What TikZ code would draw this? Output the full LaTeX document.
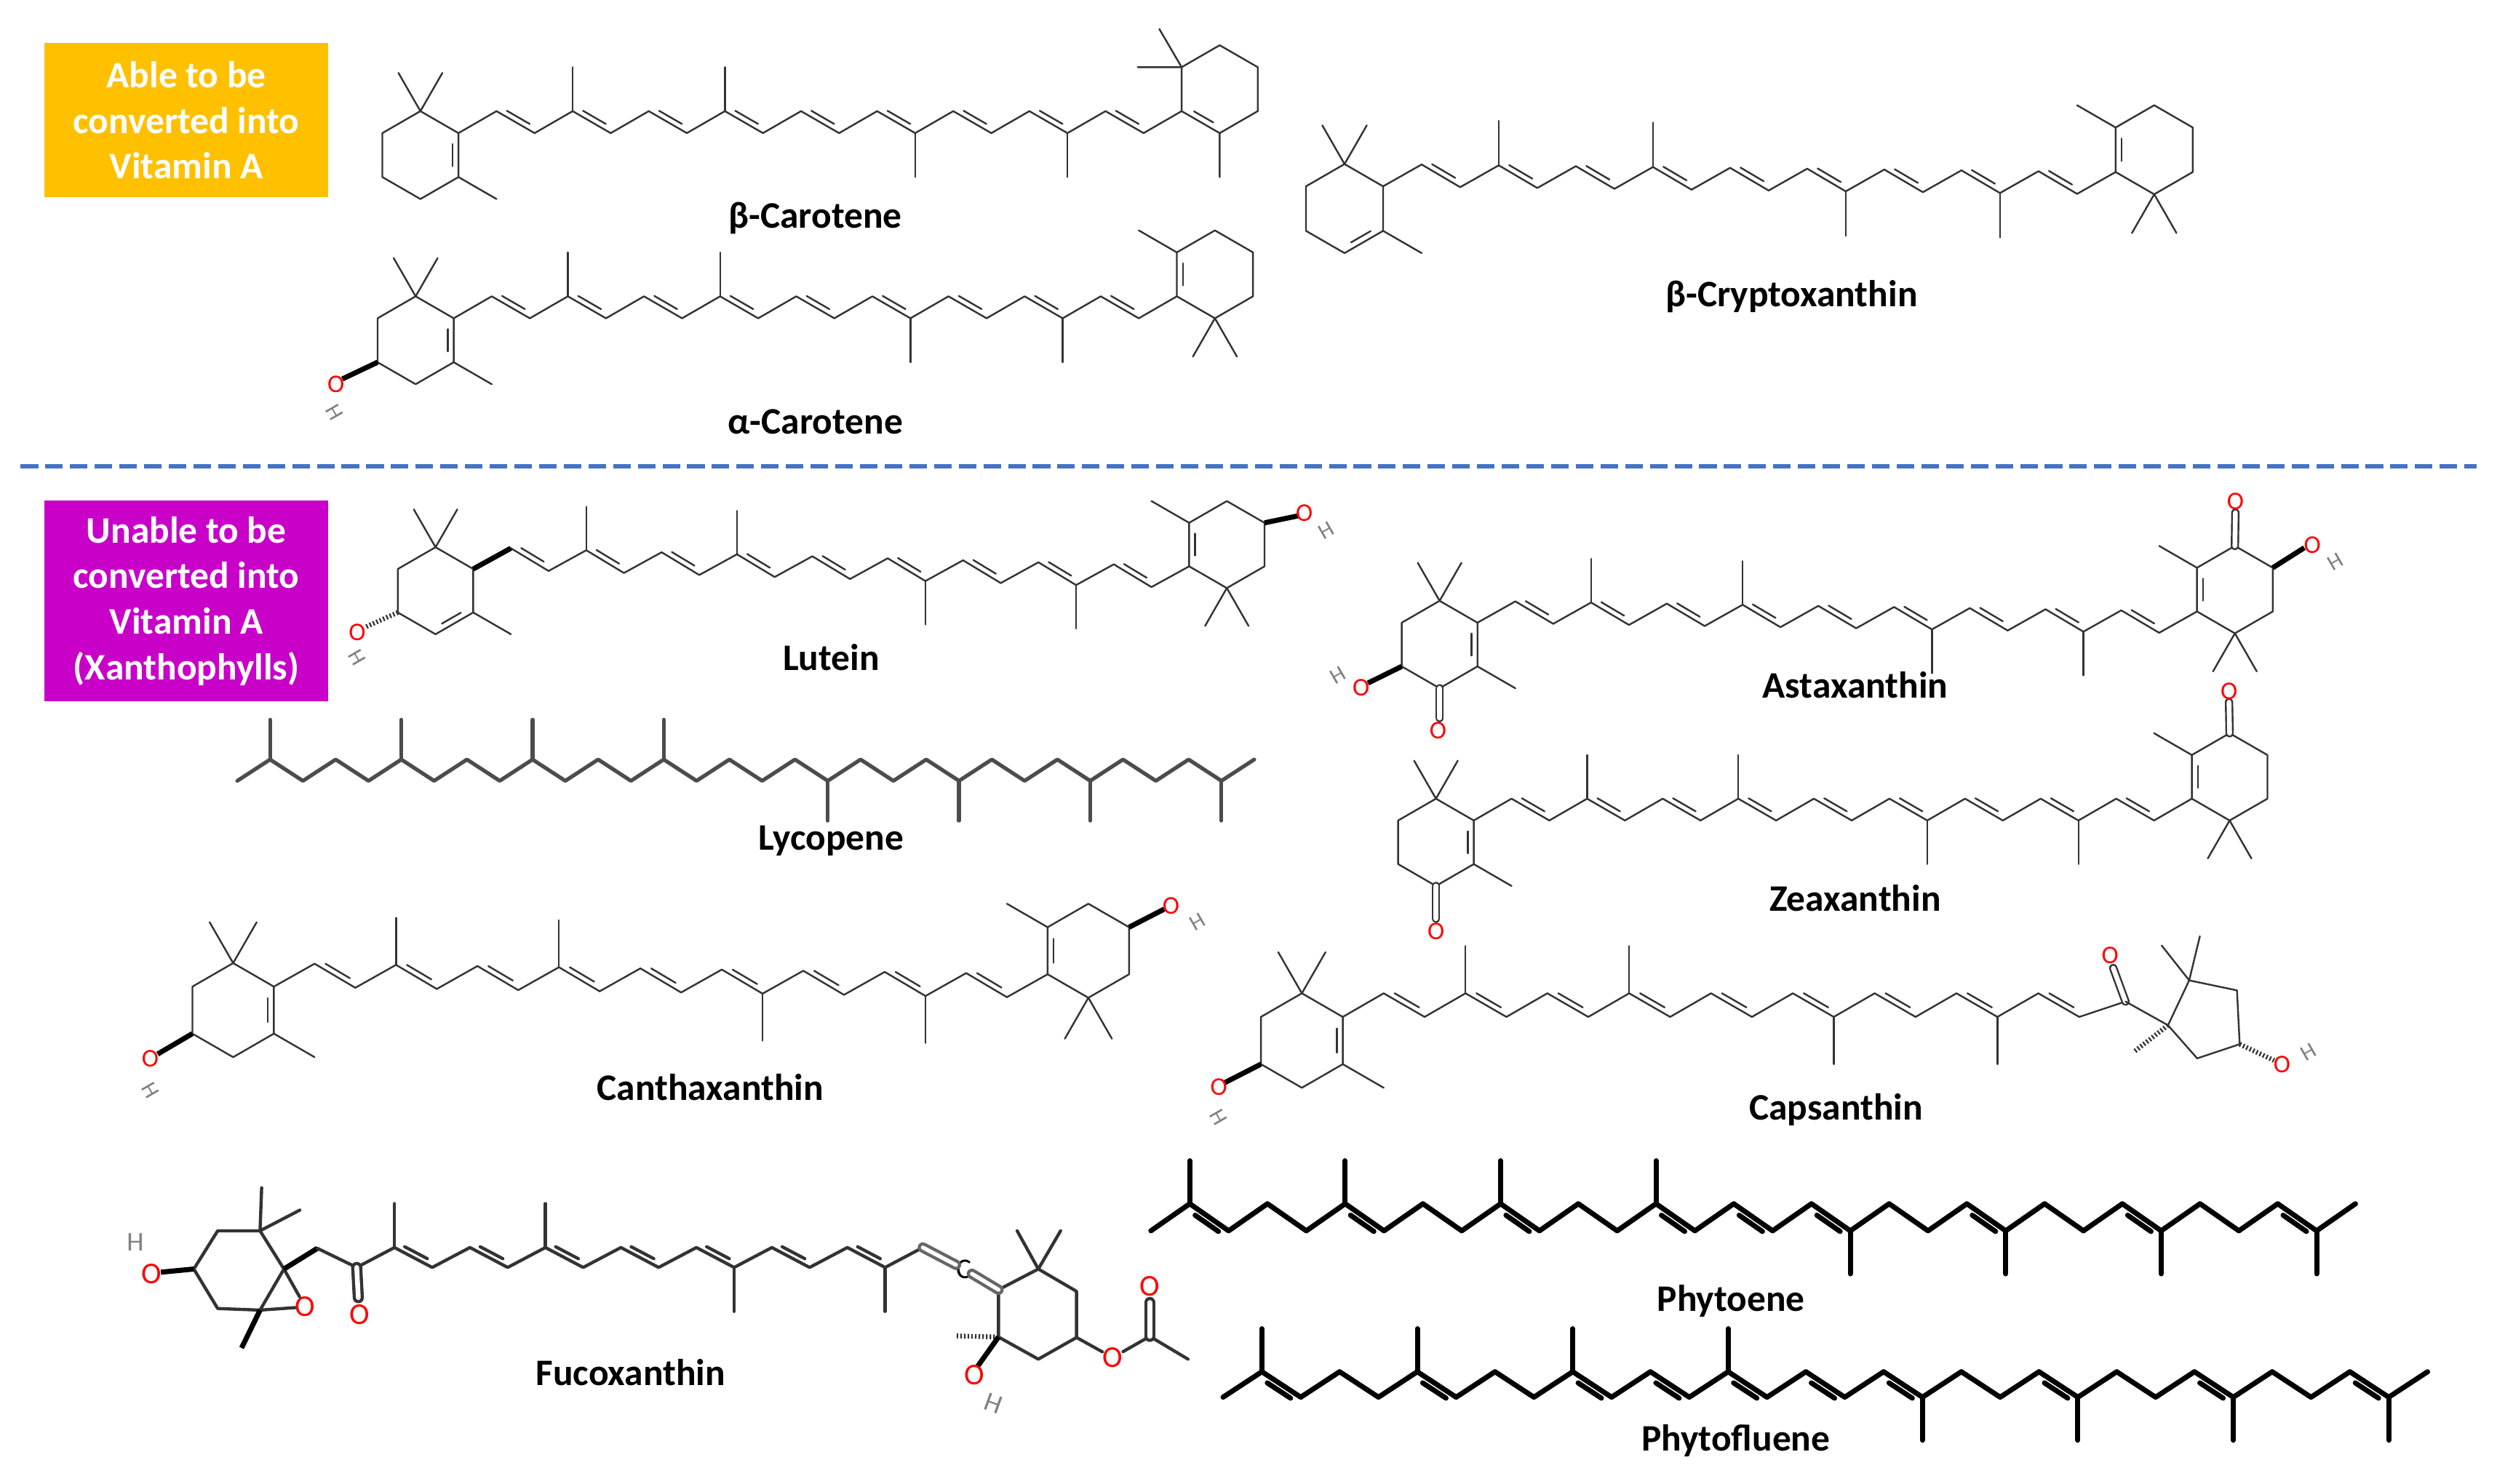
\documentclass[tikz,border=0pt]{standalone}
\usepackage{fontspec}
\setmainfont{Carlito}
\usetikzlibrary{calc}
\newif\ifchdbl \chdbltrue
\def\cdx{23.9}\def\ch{13.8}\def\csl{0}\def\bb{27.6}\def\doffx{1.7}\def\doffy{-3}
\newcommand\ring[3]{\coordinate (#1c) at #2;\foreach \k in {0,...,5}{\coordinate (#1\k) at ($(#1c)+({30+60*\k}:#3)$);}\draw[bond] (#10)--(#11)--(#12)--(#13)--(#14)--(#15)--cycle;}
\newcommand\dbl[3]{\draw[bond] ($($(#1)!.2!(#2)$)!4pt!(#3)$) -- ($($(#1)!.8!(#2)$)!4pt!(#3)$);}
% name, x0, y0, n, parity, methyls, doubles
\newcommand\chain[7]{%
 \foreach \k in {0,...,#4}{\coordinate (#1\k) at ({#2+\cdx*\k},{#3-\ch*mod(\k+#5,2)+\csl*\k});}%
 \draw[bond] (#10) \foreach \k in {1,...,#4}{ -- (#1\k)};%
 \ifchdbl\foreach \k in {#7}{\pgfmathtruncatemacro\kk{\k+1}\draw[bond] ($($(#1\k)!.2!(#1\kk)$)+(\doffx,\doffy)$) -- ($($(#1\k)!.8!(#1\kk)$)+(\doffx,\doffy)$);}\fi
 \foreach \k in {#6}{\pgfmathsetmacro\dd{mod(\k+#5,2)==1 ? -\bb : \bb}\draw[bond] (#1\k) -- ++(0,\dd);}%
}
% prefix, cx, cy, scale, slope
\newcommand\mol[5]{%
 \pgfmathsetmacro\bb{27.6*#4}\pgfmathsetmacro\cdx{23.9*#4}\pgfmathsetmacro\ch{13.8*#4}\pgfmathsetmacro\csl{#5/19}%
 \ring{#1L}{(#2,#3)}{\bb}%
 \chain{#1}{#2+\cdx}{#3-\ch}{19}{0}{3,7,12,16}{1,3,...,17}%
 \ring{#1R}{($(#119)+(\cdx,-\ch)$)}{\bb}%
 \def\csl{0}}
\newcommand\gemup[1]{\draw[bond] (#1)--++(-0.5*\bb,-0.87*\bb) (#1)--++(0.5*\bb,-0.87*\bb);}
\newcommand\gemdn[1]{\draw[bond] (#1)--++(-0.5*\bb,0.87*\bb) (#1)--++(0.5*\bb,0.87*\bb);}
\newcommand\medr[1]{\draw[bond] (#1)--++(\cdx,\ch);}
\newcommand\meul[1]{\draw[bond] (#1)--++(-\cdx,-\ch);}
\begin{document}
\begin{tikzpicture}[x=1pt,y=-1pt,
 bond/.style={line width=1.1pt,line cap=round,line join=round,draw=black!80},
 lbl/.style={font=\bfseries\fontsize{23.5}{26}\selectfont},
 box/.style={text=white,font=\bfseries\fontsize{23.5}{28.7}\selectfont,align=center,minimum width=178pt,inner sep=0pt},
 ox/.style={text=red,font=\fontsize{16}{16}\selectfont,inner sep=0pt},
 hy/.style={text=gray,font=\fontsize{14}{14}\selectfont,inner sep=0pt},
 wedge/.style={line width=3.2pt,line cap=butt,draw=black},
 hash/.style={line width=3pt,draw=black!80,dash pattern=on 1pt off 1.3pt}]
\useasboundingbox (0,0) rectangle (1568,932);
\fill[white] (0,0) rectangle (1568,932);
% boxes
\node[box,fill={rgb,255:red,255;green,192;blue,0},minimum height=97pt] (b1) at (117,75.5) {Able to be\\converted into\\Vitamin A};
\node[box,fill={rgb,255:red,200;green,0;blue,200},minimum height=126pt] (b2) at (117,377.5) {Unable to be\\converted into\\Vitamin A\\(Xanthophylls)};
\coordinate (d1) at (13,293); \coordinate (d2) at (1555,293);
\draw[line width=2.6pt,draw={rgb,255:red,68;green,114;blue,196},dash pattern=on 11pt off 4.5pt] (d1) -- (d2);
% labels
\node[lbl] (n1) at (512,137) {β-Carotene};
\node[lbl] (n2) at (512,265) {α-Carotene};
\node[lbl] (n3) at (1125,186) {β-Cryptoxanthin};
\node[lbl] (n4) at (522,413) {Lutein};
\node[lbl] (n5) at (522,528) {Lycopene};
\node[lbl] (n6) at (446,683) {Canthaxanthin};
\node[lbl] (n7) at (396,862) {Fucoxanthin};
\node[lbl] (n8) at (1165,430) {Astaxanthin};
\node[lbl] (n9) at (1165,564) {Zeaxanthin};
\node[lbl] (n10) at (1153,697) {Capsanthin};
\node[lbl] (n11) at (1087,817) {Phytoene};
\node[lbl] (n12) at (1090,905) {Phytofluene};
% beta-carotene
\mol{bc}{264}{97.4}{1}{0}
\dbl{bcL5}{bcL0}{bcLc}\gemup{bcL4}\medr{bcL0}
\dbl{bcR2}{bcR1}{bcRc}
\draw[bond] (bcR3)--++(-14,-24) (bcR3)--++(-27.6,0) (bcR1)--++(0,27.6);
% alpha-carotene
\mol{ac}{261}{213.7}{1}{0}
\dbl{acL5}{acL0}{acLc}\gemup{acL4}\medr{acL0}
\draw[wedge] (acL2)--(215,238);
\node[ox] (o1) at (211,241.5) {O}; \node[hy,rotate=-60] (h1) at (210,259) {H};
\dbl{acR3}{acR2}{acRc}\meul{acR3}\gemdn{acR1}
% beta-cryptoxanthin
\mol{cx}{844.3}{131}{1.013}{5}
\dbl{cxL0}{cxL1}{cxLc}\gemup{cxL4}\medr{cxL0}
\dbl{cxR3}{cxR2}{cxRc}\meul{cxR3}\gemdn{cxR1}
% lutein
\mol{lu}{273.5}{371}{0.99}{12}
\draw[wedge] (luL5)--(lu1);
\dbl{luL0}{luL1}{luLc}\gemup{luL4}\medr{luL0}
\draw[hash] (luL2)--(229,394);
\node[ox] (o2) at (224.3,397) {O}; \node[hy,rotate=-60] (h2) at (224,413) {H};
\dbl{luR3}{luR2}{luRc}\meul{luR3}\gemdn{luR1}
\draw[wedge] (luR5)--(815,324);
\node[ox] (o3) at (819,322) {O}; \node[hy,rotate=30] (h3) at (833,333) {H};
% lycopene
\begin{scope}[bond/.style={line width=2.4pt,line cap=round,line join=round,draw=black!70}]
\chdblfalse\def\cdx{20.6}\def\ch{13.4}\def\bb{25}
\chain{ly}{149}{490.4}{31}{0}{1,5,9,13,18,22,26,30}{}
\end{scope}
\chdbltrue
% canthaxanthin
\mol{ca}{146.4}{634.4}{1.07}{7}
\dbl{caL5}{caL0}{caLc}\gemup{caL4}\medr{caL0}
\draw[wedge] (caL2)--(99,662);
\node[ox] (o4) at (94.3,664.7) {O}; \node[hy,rotate=-60] (h4) at (94.3,684.6) {H};
\dbl{caR3}{caR2}{caRc}\meul{caR3}\gemdn{caR1}
\draw[wedge] (caR5)--(731,571);
\node[ox] (o5) at (735.3,569) {O}; \node[hy,rotate=30] (h5) at (752,579) {H};
% astaxanthin
\mol{as}{904}{404.8}{0.995}{6.7}
\dbl{asL5}{asL0}{asLc}\gemup{asL4}\medr{asL0}
\draw[bond,double,double distance=3pt] (asL1)--(904,451);
\node[ox] (o6) at (903,458.6) {O};
\draw[wedge] (asL2)--(859,429);
\node[ox] (o7) at (854.7,432) {O}; \node[hy,rotate=30] (h7) at (840,424) {H};
\dbl{asR3}{asR2}{asRc}\meul{asR3}\gemdn{asR1}
\draw[bond,double,double distance=3pt] (asR4)--(1403.7,322);
\node[ox] (o8) at (1403.7,315) {O};
\draw[wedge] (asR5)--(1447,344);
\node[ox] (o9) at (1452,342.3) {O}; \node[hy,rotate=30] (h9) at (1466.4,352.6) {H};
% zeaxanthin
\mol{ze}{901.7}{529}{0.993}{0}
\dbl{zeL5}{zeL0}{zeLc}\gemup{zeL4}\medr{zeL0}
\draw[bond,double,double distance=3pt] (zeL1)--(901.7,577);
\node[ox] (o10) at (901.7,585) {O};
\dbl{zeR3}{zeR2}{zeRc}\meul{zeR3}\gemdn{zeR1}
\draw[bond,double,double distance=3pt] (zeR4)--(1399.7,441);
\node[ox] (o11) at (1399.7,434) {O};
% capsanthin
\pgfmathsetmacro\bb{27.6*1.075}\pgfmathsetmacro\cdx{23.9*1.075}\pgfmathsetmacro\ch{13.8*1.075}
\ring{cpL}{(817.5,653.5)}{\bb}
\chain{cp}{817.5+\cdx}{653.5-\ch}{18}{0}{3,7,12,16}{1,3,...,17}
\dbl{cpL5}{cpL0}{cpLc}\gemup{cpL4}\medr{cpL0}
\draw[wedge] (cpL2)--(769,680);
\node[ox] (o12) at (765.3,682.6) {O}; \node[hy,rotate=-60] (h12) at (765.3,701.5) {H};
\coordinate (Q) at (1334.7,629);
\draw[bond] (cp18)--(Q);
\draw[bond,double,double distance=3pt] (Q)--(1327,608);
\node[ox] (o13) at (1325,600) {O};
\coordinate (P0) at (1361.4,643.9); \coordinate (P1) at (1374.7,615.7); \coordinate (P2) at (1404.7,622);
\coordinate (P3) at (1406.4,655.8); \coordinate (P4) at (1379.7,664.7);
\draw[bond] (P0)--(P1)--(P2)--(P3)--(P4)--cycle;
\draw[bond] (Q)--(P0) (P1)--(1357.4,593.8) (P1)--(1381.4,588);
\draw[hash] (P0)--(1339.7,660.8);
\draw[hash] (P3)--(1428,666);
\node[ox] (o14) at (1433,668.7) {O}; \node[hy,rotate=30] (h14) at (1449.7,660.8) {H};
% fucoxanthin
\begin{scope}[bond/.style={line width=2pt,line cap=round,line join=round,draw=black!80}]
\coordinate (F1) at (136.7,773); \coordinate (F2) at (163.3,773); \coordinate (F3) at (178.3,797);
\coordinate (F4) at (163.3,822.8); \coordinate (F5) at (136.7,821.8); \coordinate (F6) at (121.7,797);
\draw[bond] (F1)--(F2)--(F3)--(F4)--(F5)--(F6)--cycle;
\draw[bond] (F2)--(164.3,746) (F2)--(188.3,760);
\draw[wedge] (F6)--(101,799);
\node[ox,font=\fontsize{19}{19}\selectfont] (o15) at (95,800) {O}; \node[hy,font=\fontsize{17}{17}\selectfont] (h15) at (85,780) {H};
\node[ox,font=\fontsize{19}{19}\selectfont] (o16) at (191.7,820.8) {O};
\draw[bond] (F3)--(o16) (F4)--(o16);
\draw[wedge] (F4)--(151.7,846.6);
\coordinate (CH) at (199.3,784);
\draw[wedge] (F3)--(CH);
\def\cdx{23.7}\def\ch{12.5}\def\bb{27.6}
\chain{fu}{224}{796}{15}{0}{1,5,10,14}{1,3,...,13}
\draw[bond] (CH)--(fu0);
\draw[bond,double,double distance=3pt] (fu0)--(225,815);
\node[ox,font=\fontsize{19}{19}\selectfont] (o17) at (226,825.8) {O};
\node[font=\fontsize{18}{18}\selectfont,inner sep=0pt] (al) at (605.3,797) {C};
\draw[bond,double,double distance=2.5pt,draw=black!60] (fu15)--(al);
\coordinate (T1) at (627,810); \coordinate (T2) at (652,797); \coordinate (T3) at (676,811);
\coordinate (T4) at (676,840); \coordinate (T5) at (652,853.6); \coordinate (T6) at (627,839.7);
\draw[bond] (T1)--(T2)--(T3)--(T4)--(T5)--(T6)--cycle;
\draw[bond,double,double distance=2.5pt,draw=black!60] (al)--(T1);
\draw[bond] (T2)--(638.7,773) (T2)--(666,773);
\draw[hash] (T6)--(600,839);
\draw[wedge] (T6)--(614,858);
\node[ox,font=\fontsize{19}{19}\selectfont] (o18) at (612,863.5) {O}; \node[hy,font=\fontsize{17}{17}\selectfont,rotate=-20] (h18) at (624,881.4) {H};
\node[ox,font=\fontsize{19}{19}\selectfont] (o19) at (698.7,852.6) {O};
\coordinate (AC) at (722,839.3);
\draw[bond] (T4)--(o19) (o19)--(AC)--(746,853.6);
\draw[bond,double,double distance=3pt] (AC)--(722,818);
\node[ox,font=\fontsize{19}{19}\selectfont] (o20) at (722,808) {O};
\end{scope}
% phytoene & phytofluene
\begin{scope}[bond/.style={line width=3.2pt,line cap=round,line join=round,draw=black}]
\def\doffx{-1.5}\def\doffy{3.8}\def\cdx{24.4}\def\bb{27}
\def\ch{17}
\chain{pe}{722.7}{773}{31}{0}{1,5,9,13,18,22,26,30}{1,5,9,13,15,17,21,25,29}
\def\ch{16}
\chain{pf}{768}{877.5}{31}{0}{1,5,9,13,18,22,26,30}{1,5,9,11,13,15,17,21,25,29}
\end{scope}
\end{tikzpicture}
\end{document}
